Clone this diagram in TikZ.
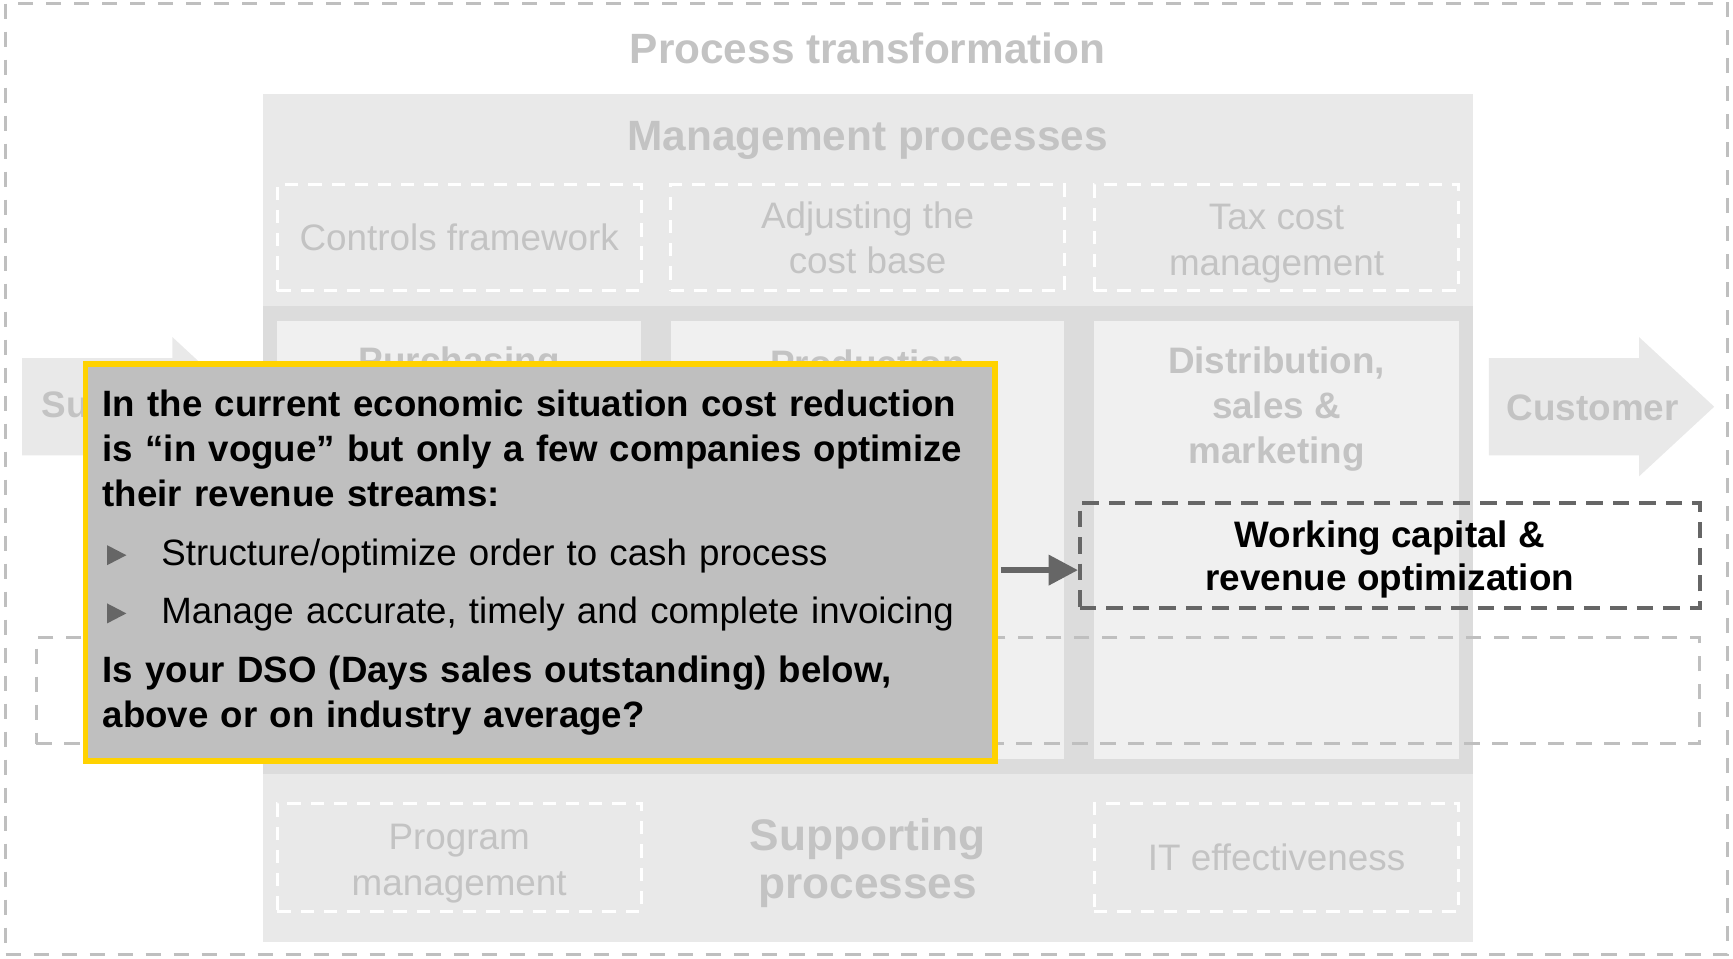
\documentclass[tikz,border=0pt]{standalone}
\usepackage{fontspec}
\setmainfont{Liberation Sans}
\usepackage{tikz}
\usetikzlibrary{arrows.meta,positioning,fit}
\definecolor{fade}{HTML}{C3C3C3}
\definecolor{panelgray}{HTML}{E9E9E9}
\definecolor{bandgray}{HTML}{DCDCDC}
\definecolor{lanegray}{HTML}{F0F0F0}
\definecolor{zonegray}{HTML}{BFBFBF}
\definecolor{notefill}{HTML}{BFBFBF}
\definecolor{noteline}{HTML}{FFD200}
\definecolor{darkline}{HTML}{666666}
\tikzset{
  outerzone/.style={draw=zonegray,line width=0.8pt,dash pattern=on 4.1pt off 3.5pt,inner sep=0pt},
  panel/.style    ={fill=panelgray,inner sep=0pt},
  band/.style     ={fill=bandgray,inner sep=0pt},
  lane/.style     ={fill=lanegray,inner sep=0pt},
  whitebox/.style ={draw=white,line width=0.8pt,dash pattern=on 3.6pt off 2.7pt,inner sep=0pt},
  boxtxt/.style   ={text=fade,align=center,inner sep=0pt,font=\fontsize{10}{12.3}\selectfont},
  headtxt/.style  ={text=fade,align=center,inner sep=0pt,font=\bfseries\fontsize{11.5}{13.2}\selectfont},
  colhead/.style  ={text=fade,align=center,inner sep=0pt,font=\bfseries\fontsize{10}{12.3}\selectfont},
  sidearrow/.style={fill=panelgray},
  zone/.style     ={draw=zonegray,line width=0.8pt,dash pattern=on 4.1pt off 3.5pt,inner sep=0pt},
  focus/.style    ={draw=darkline,line width=1pt,dash pattern=on 4.5pt off 2.7pt,inner sep=0pt},
  focustxt/.style ={align=center,inner sep=0pt,font=\bfseries\fontsize{10}{11.7}\selectfont},
  note/.style     ={fill=notefill,draw=noteline,line width=1.5pt,inner xsep=4.65pt,
                    text width=237.6pt,minimum height=107.7pt,align=left,
                    font=\fontsize{9.95}{12.3}\selectfont},
  flow/.style     ={-{Triangle[length=8pt,width=8pt]},line width=1.6pt,draw=darkline}
}
\newcommand{\notebullet}{\makebox[15.9pt][l]{\hspace{1.2pt}%
  \tikz\fill[darkline] (0pt,0pt) -- (5.2pt,2.7pt) -- (0pt,5.4pt) -- cycle;}}

\begin{document}
\begin{tikzpicture}[x=0.3pt,y=-0.3pt]
  \useasboundingbox (0,0) rectangle (1568,867);
  \node[outerzone,fit={(5,3) (1563,864)}] (whole) {};
  \node[headtxt] (title) at (785,44) {Process transformation};

  % the process house
  \node[panel,fit={(238,85) (1333,852)}] (house) {};
  \node[band,fit={(238,277) (1333,700)}] (core) {};
  \node[headtxt] (mgmt) at (785,127) {Management processes};
  \node[whitebox,fit={(251,167) (580,263)}] (ctrl) {};
  \node[whitebox,fit={(607,167) (963,263)}] (costbase) {};
  \node[whitebox,fit={(990,167) (1320,263)}] (tax) {};
  \node[boxtxt] (ctrltxt) at (ctrl) {Controls framework};
  \node[boxtxt] (costbasetxt) at (costbase) {Adjusting the\\cost base};
  \node[boxtxt] (taxtxt) at ([yshift=-1.6pt]tax.center) {Tax cost\\management};

  \node[lane,fit={(251,290) (580,687)}] (purch) {};
  \node[lane,fit={(607,290) (963,687)}] (prod) {};
  \node[lane,fit={(990,290) (1320,687)}] (distr) {};
  \node[colhead] (purchtxt) at (415.5,329) {Purchasing};
  \node[colhead] (prodtxt) at (785,329) {Production};
  \node[colhead] (distrtxt) at (1155,370) {Distribution,\\sales \&\\marketing};

  \node[whitebox,fit={(251,727) (580,825)}] (prog) {};
  \node[whitebox,fit={(990,727) (1320,825)}] (itfx) {};
  \node[boxtxt] (progtxt) at ([yshift=-1.6pt]prog.center) {Program\\management};
  \node[headtxt,font=\bfseries\fontsize{12}{13.2}\selectfont] (supp) at (785,781) {Supporting\\processes};
  \node[boxtxt] (itfxtxt) at (itfx) {IT effectiveness};

  % supplier and customer ends
  \fill[sidearrow] (20,324) -- (156,324) -- (156,305) -- (224,368) -- (156,431) -- (156,412) -- (20,412) -- cycle;
  \node[colhead,anchor=west] (supl) at (37,369) {Supplier};
  \fill[sidearrow] (1347,324) -- (1483,324) -- (1483,305) -- (1551,368) -- (1483,431) -- (1483,412) -- (1347,412) -- cycle;
  \node[colhead] (cust) at (1441,369) {Customer};

  % order to cash focus
  \node[zone,fit={(33,577) (1538,673)}] (o2c) {};
  \node[focus,fit={(977,455) (1538,550)}] (wc) {};
  \node[focustxt] (wctxt) at ([yshift=-1.2pt]wc.center) {Working capital \&\\revenue optimization};

  \node[note] (msg) at (489,509) {%
    {\bfseries In the current economic situation cost reduction\\
    is “in vogue” but only a few companies optimize\\
    their revenue streams:}\\[3.5pt]
    \notebullet Structure/optimize order to cash process\\[3.5pt]
    \notebullet Manage accurate, timely and complete invoicing\\[3.7pt]
    {\bfseries Is your DSO (Days sales outstanding) below,\\
    above or on industry average?}};

  \draw[flow,shorten <=0.75pt] ([yshift=-4pt]wc.west -| msg.east) -- ([yshift=-4pt]wc.west);
\end{tikzpicture}
\end{document}
